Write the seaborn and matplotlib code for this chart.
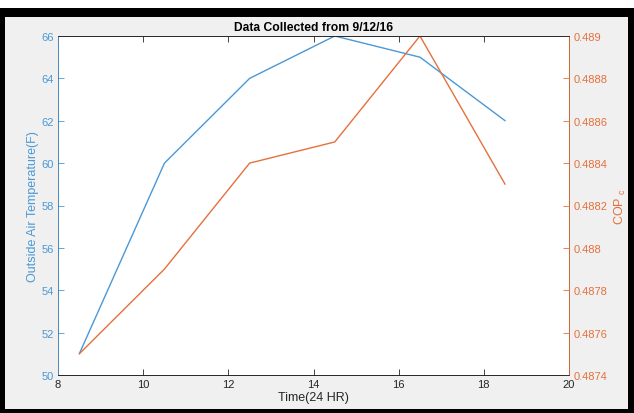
import pandas as pd
import seaborn as sns
import matplotlib.pyplot as plt
from matplotlib.patches import Rectangle
from matplotlib.ticker import FuncFormatter, MultipleLocator

hours = [8.5, 10.5, 12.5, 14.5, 16.5, 18.5]
temp_f = [51, 60, 64, 66, 65, 62]
cop_c = [0.4875, 0.4879, 0.4884, 0.4885, 0.4890, 0.4883]

df = pd.DataFrame({'hour': hours, 'temp': temp_f, 'cop': cop_c})

sns.set_style('white')
plt.rcParams['font.family'] = ['Liberation Sans', 'DejaVu Sans']
plt.rcParams['mathtext.fontset'] = 'custom'
plt.rcParams['mathtext.rm'] = 'Liberation Sans'

blue = '#4a98d6'
orange = '#e5703c'
dark = '#262626'

fig = plt.figure(figsize=(6.34, 4.14), dpi=100, facecolor='white')
W, H = 634, 414
# black screenshot frame + matlab grey window
fig.patches.append(Rectangle((0, 0), 1, (H - 9) / H, transform=fig.transFigure,
                             facecolor='black', edgecolor='none', zorder=-3))
fig.patches.append(Rectangle((5 / W, 4 / H), (628 - 5) / W, (H - 18 - 4) / H,
                             transform=fig.transFigure, facecolor='#f0f0f0',
                             edgecolor='none', zorder=-2))

ax = fig.add_axes([58 / W, (H - 376) / H, 511 / W, 339 / H])
ax.set_facecolor('white')
sns.lineplot(data=df, x='hour', y='temp', ax=ax, color=blue, linewidth=1)
ax2 = ax.twinx()
sns.lineplot(data=df, x='hour', y='cop', ax=ax2, color=orange, linewidth=1)

ax.set_xlim(8, 20)
ax.set_ylim(50, 66)
ax2.set_ylim(0.4874, 0.4890)
ax.xaxis.set_major_locator(MultipleLocator(2))
ax.yaxis.set_major_locator(MultipleLocator(2))
ax2.yaxis.set_major_locator(MultipleLocator(0.0002))
ax2.yaxis.set_major_formatter(FuncFormatter(lambda v, p: f'{v:.4f}'.rstrip('0')))

for s in ax.spines.values():
    s.set_color(dark)
    s.set_linewidth(0.6)
ax2.spines['left'].set_color(blue)
ax2.spines['right'].set_color(orange)
ax2.spines['top'].set_color(dark)
ax2.spines['bottom'].set_color(dark)
for s in ax2.spines.values():
    s.set_linewidth(0.6)

ax.tick_params(axis='x', direction='in', length=4, width=0.6, colors=dark,
               labelsize=8, top=True, bottom=True, pad=3)
ax.tick_params(axis='y', direction='in', length=4, width=0.6, colors=blue,
               labelsize=8, pad=3)
ax2.tick_params(axis='y', direction='in', length=4, width=0.6, colors=orange,
                labelsize=8, pad=3)

ax.set_xlabel('Time(24 HR)', fontsize=9, color=dark, labelpad=1)
ax.set_ylabel('Outside Air Temperature(F)', fontsize=9, color=blue, labelpad=2)
ax2.set_ylabel('COP$_\\mathregular{\\ c}$', fontsize=9, color=orange, labelpad=4)
ax.set_title('Data Collected from 9/12/16', fontsize=8.7, fontweight='bold',
             color='black', pad=4)

fig.savefig('out.png', dpi=100, facecolor=fig.get_facecolor())
